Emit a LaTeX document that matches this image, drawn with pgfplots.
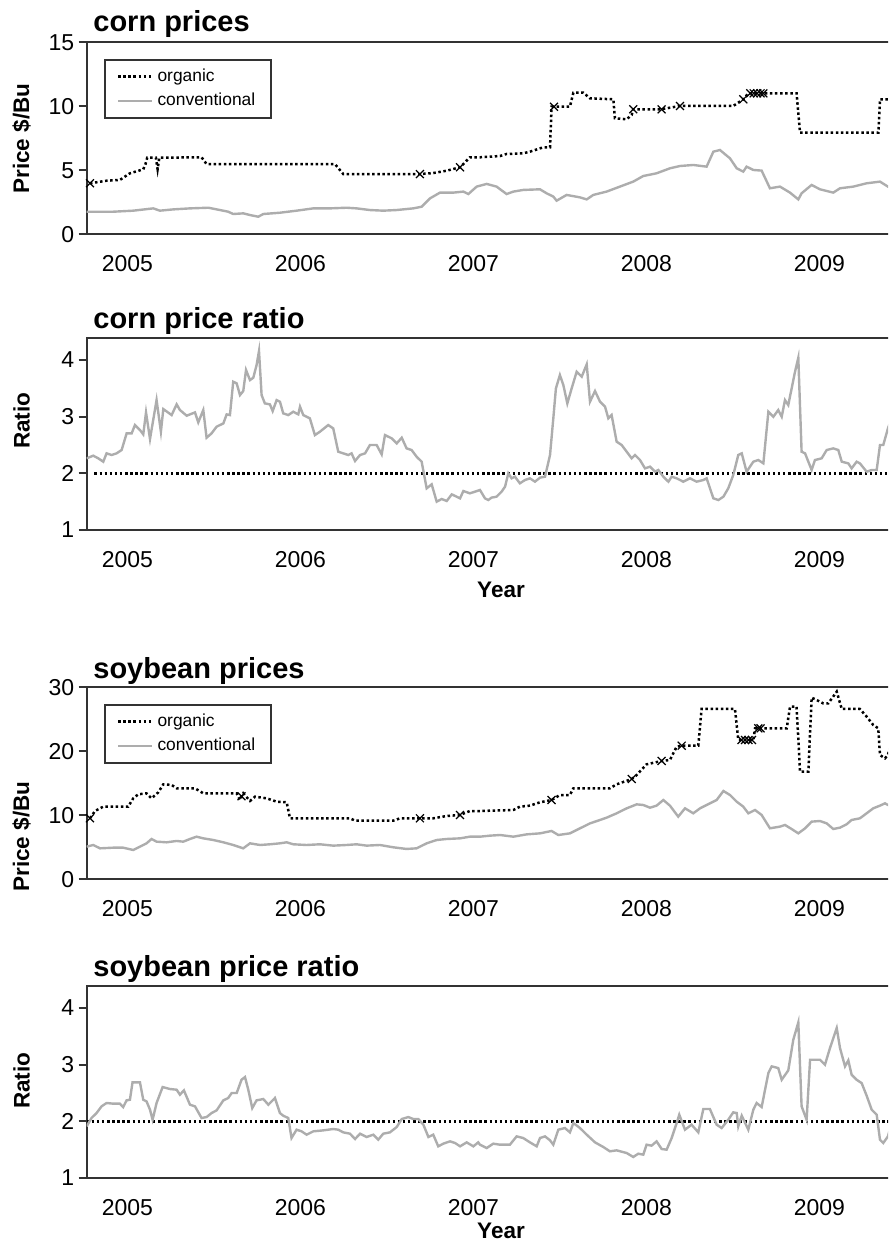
\documentclass[border=0pt]{standalone}
\usepackage{pgfplots}
\pgfplotsset{compat=1.18}
\usepackage{fontspec}
\setmainfont{Liberation Sans}
\definecolor{convgray}{gray}{0.68}
\definecolor{framec}{gray}{0.2}

\pgfplotsset{
  panel/.style={
    scale only axis, width=414.9pt, height=96pt,
    xmin=2004.764, xmax=2009.56,
    xtick={2005,2006,2007,2008,2009},
    xticklabels={2005,2006,2007,2008,2009},
    tick pos=left,
    tick align=outside,
    major tick length=4pt,
    axis line style={framec, line width=1pt},
    ytick style={framec, line width=1pt},
    xtick style={draw=none},
    tick label style={font=\fontsize{11.5}{13}\selectfont, text=black},
    xticklabel style={yshift=-3pt},
    yticklabel style={inner xsep=2pt},
    legend cell align=left,
    legend style={at={(0,1)}, anchor=north west, xshift=8.75pt, yshift=-8.15pt,
      draw=framec, line width=0.9pt, inner xsep=6pt, inner ysep=2.5pt,
      font=\fontsize{8.7}{10}\selectfont, row sep=0.5pt},
    legend image post style={xshift=2pt},
  },
  org/.style={black, line width=1.25pt, dash pattern=on 1.25pt off 1.3pt},
  conv/.style={convgray, line width=1.2pt},
  xmk/.style={only marks, mark=x, mark size=2.8pt, mark options={black, line width=0.6pt, solid}},
  ref2/.style={black, line width=1.25pt, dash pattern=on 1.25pt off 1.3pt},
}

\begin{document}
\begin{tikzpicture}
\path[use as bounding box] (0,0) rectangle (444pt,620.5pt);
\clip (0,0) rectangle (444pt,620.5pt);

% ---------------- corn prices ----------------
\begin{axis}[panel, at={(43.25pt,503.25pt)}, anchor=south west,
  ymin=0, ymax=15, ytick={0,5,10,15}, yticklabels={0,5,10,15}]
\addplot[org] coordinates {
(2004.784,4.0) (2004.880,4.2) (2004.957,4.26) (2005.015,4.78) (2005.092,5.09) (2005.105,5.5) (2005.115,6.0) (2005.165,6.0) (2005.175,5.1) (2005.185,6.0) (2005.429,6.03) (2005.458,5.5) (2006.200,5.5) (2006.248,4.72) (2006.691,4.72) (2006.768,4.8) (2006.845,4.98) (2006.923,5.25) (2006.980,6.03) (2007.038,6.03) (2007.154,6.13) (2007.192,6.29) (2007.288,6.34) (2007.327,6.47) (2007.404,6.81) (2007.443,6.81) (2007.452,9.98) (2007.558,9.98) (2007.578,11.08) (2007.635,11.08) (2007.674,10.64) (2007.809,10.56) (2007.818,9.08) (2007.886,9.0) (2007.915,9.34) (2007.924,9.78) (2008.088,9.78) (2008.117,9.86) (2008.194,10.04) (2008.502,10.04) (2008.560,10.56) (2008.589,11.03) (2008.868,11.03) (2008.888,7.95) (2009.341,7.95) (2009.350,10.56) (2009.45,10.56)
};
\addlegendentry{organic}
\addplot[conv] coordinates {
(2004.765,1.78) (2004.919,1.78) (2005.034,1.86) (2005.150,2.04) (2005.188,1.86) (2005.265,1.96) (2005.362,2.04) (2005.468,2.09) (2005.535,1.91) (2005.583,1.78) (2005.612,1.60) (2005.670,1.65) (2005.709,1.52) (2005.757,1.39) (2005.786,1.60) (2005.882,1.70) (2005.978,1.86) (2006.075,2.04) (2006.171,2.04) (2006.267,2.09) (2006.325,2.04) (2006.402,1.91) (2006.479,1.86) (2006.556,1.91) (2006.653,2.04) (2006.701,2.17) (2006.749,2.82) (2006.807,3.27) (2006.884,3.27) (2006.942,3.35) (2006.971,3.16) (2007.019,3.74) (2007.077,3.95) (2007.134,3.74) (2007.192,3.16) (2007.231,3.35) (2007.288,3.48) (2007.385,3.53) (2007.423,3.22) (2007.462,2.96) (2007.481,2.64) (2007.539,3.09) (2007.616,2.90) (2007.655,2.74) (2007.693,3.09) (2007.770,3.35) (2007.847,3.74) (2007.924,4.13) (2007.982,4.57) (2008.059,4.78) (2008.136,5.17) (2008.194,5.35) (2008.271,5.43) (2008.348,5.30) (2008.387,6.47) (2008.425,6.60) (2008.483,5.95) (2008.522,5.17) (2008.560,4.91) (2008.579,5.30) (2008.618,5.04) (2008.666,4.99) (2008.714,3.61) (2008.772,3.74) (2008.830,3.27) (2008.878,2.74) (2008.897,3.22) (2008.955,3.87) (2009.003,3.53) (2009.080,3.27) (2009.119,3.61) (2009.196,3.74) (2009.273,4.0) (2009.350,4.13) (2009.396,3.74) (2009.45,3.8)
};
\addlegendentry{conventional}
\addplot[xmk, forget plot] coordinates {
(2004.784,4.0) (2006.691,4.72) (2006.923,5.25) (2007.466,9.98) (2007.924,9.78) (2008.088,9.78) (2008.194,10.04) (2008.560,10.56) (2008.60,11.03) (2008.62,11.03) (2008.64,11.03) (2008.66,11.03) (2008.676,11.03)
};
\end{axis}

% ---------------- corn price ratio ----------------
\begin{axis}[panel, at={(43.25pt,355.5pt)}, anchor=south west,
  ymin=1, ymax=4.39, ytick={1,2,3,4}, yticklabels={1,2,3,4}]
\addplot[ref2] coordinates {(2004.81,2) (2009.56,2)};
\addplot[conv] coordinates {
(2004.765,2.265) (2004.803,2.312) (2004.832,2.265) (2004.861,2.206) (2004.880,2.353) (2004.909,2.324) (2004.938,2.353) (2004.967,2.412) (2004.996,2.706) (2005.025,2.706) (2005.044,2.853) (2005.073,2.765) (2005.092,2.688) (2005.108,3.076) (2005.131,2.606) (2005.169,3.294) (2005.194,2.735) (2005.208,3.135) (2005.256,3.029) (2005.285,3.218) (2005.304,3.118) (2005.343,3.018) (2005.391,3.076) (2005.410,2.9) (2005.439,3.118) (2005.458,2.629) (2005.487,2.706) (2005.516,2.824) (2005.555,2.882) (2005.574,3.041) (2005.593,3.029) (2005.612,3.618) (2005.632,3.588) (2005.651,3.382) (2005.670,3.453) (2005.686,3.824) (2005.709,3.647) (2005.728,3.688) (2005.747,3.912) (2005.761,4.159) (2005.776,3.382) (2005.795,3.235) (2005.824,3.218) (2005.840,3.1) (2005.863,3.294) (2005.882,3.265) (2005.901,3.059) (2005.930,3.029) (2005.959,3.088) (2005.988,3.041) (2005.998,3.176) (2006.017,3.029) (2006.055,2.971) (2006.084,2.676) (2006.113,2.735) (2006.161,2.853) (2006.190,2.794) (2006.219,2.382) (2006.248,2.353) (2006.277,2.324) (2006.296,2.353) (2006.316,2.218) (2006.345,2.324) (2006.374,2.353) (2006.402,2.5) (2006.441,2.5) (2006.470,2.335) (2006.489,2.676) (2006.528,2.618) (2006.557,2.529) (2006.586,2.629) (2006.614,2.441) (2006.643,2.412) (2006.672,2.294) (2006.701,2.206) (2006.730,1.735) (2006.759,1.806) (2006.788,1.5) (2006.817,1.547) (2006.846,1.512) (2006.875,1.629) (2006.923,1.559) (2006.942,1.688) (2006.980,1.647) (2007.038,1.706) (2007.067,1.559) (2007.086,1.529) (2007.105,1.571) (2007.134,1.588) (2007.163,1.676) (2007.183,1.765) (2007.202,2.0) (2007.221,1.912) (2007.240,1.941) (2007.269,1.824) (2007.298,1.882) (2007.327,1.912) (2007.356,1.853) (2007.385,1.924) (2007.414,1.941) (2007.443,2.324) (2007.462,2.971) (2007.477,3.5) (2007.500,3.735) (2007.520,3.559) (2007.543,3.235) (2007.568,3.5) (2007.597,3.794) (2007.626,3.706) (2007.655,3.924) (2007.674,3.265) (2007.703,3.453) (2007.732,3.265) (2007.761,3.176) (2007.780,2.971) (2007.799,3.029) (2007.828,2.559) (2007.857,2.5) (2007.886,2.382) (2007.915,2.265) (2007.934,2.324) (2007.963,2.235) (2007.992,2.088) (2008.021,2.118) (2008.050,2.029) (2008.069,2.059) (2008.098,1.941) (2008.127,1.853) (2008.146,1.941) (2008.175,1.912) (2008.213,1.853) (2008.252,1.912) (2008.290,1.853) (2008.329,1.882) (2008.348,1.912) (2008.387,1.559) (2008.416,1.529) (2008.445,1.588) (2008.473,1.735) (2008.502,1.971) (2008.531,2.324) (2008.551,2.353) (2008.579,2.029) (2008.618,2.206) (2008.647,2.235) (2008.676,2.176) (2008.705,3.088) (2008.734,3.0) (2008.762,3.118) (2008.782,3.0) (2008.801,3.294) (2008.820,3.206) (2008.859,3.794) (2008.878,4.041) (2008.897,2.382) (2008.917,2.353) (2008.955,2.059) (2008.974,2.235) (2009.013,2.265) (2009.042,2.412) (2009.080,2.441) (2009.109,2.412) (2009.129,2.206) (2009.167,2.176) (2009.186,2.088) (2009.215,2.206) (2009.234,2.176) (2009.273,2.029) (2009.302,2.059) (2009.331,2.059) (2009.350,2.5) (2009.369,2.5) (2009.396,2.794) (2009.42,3.0)
};
\end{axis}

% ---------------- soybean prices ----------------
\begin{axis}[panel, at={(43.25pt,180.75pt)}, anchor=south west,
  ymin=0, ymax=30, ytick={0,10,20,30}, yticklabels={0,10,20,30}]
\addplot[org] coordinates {
(2004.784,9.56) (2004.813,10.70) (2004.861,11.38) (2005.005,11.38) (2005.034,12.68) (2005.063,13.31) (2005.111,13.46) (2005.140,12.68) (2005.179,13.62) (2005.208,14.87) (2005.256,14.77) (2005.285,14.25) (2005.391,14.25) (2005.439,13.46) (2005.632,13.46) (2005.651,12.42) (2005.670,13.46) (2005.709,12.27) (2005.738,12.94) (2005.805,12.68) (2005.863,12.16) (2005.921,12.06) (2005.940,9.56) (2006.287,9.56) (2006.316,9.19) (2006.537,9.19) (2006.576,9.56) (2006.691,9.56) (2006.768,9.56) (2006.845,9.92) (2006.923,10.08) (2006.980,10.70) (2007.038,10.70) (2007.231,10.86) (2007.269,11.38) (2007.327,11.54) (2007.385,12.06) (2007.452,12.42) (2007.500,13.2) (2007.558,13.2) (2007.578,14.25) (2007.789,14.25) (2007.828,14.87) (2007.915,15.7) (2007.944,16.33) (2008.001,17.99) (2008.088,18.52) (2008.136,18.67) (2008.175,20.76) (2008.204,20.91) (2008.300,20.91) (2008.319,26.64) (2008.512,26.64) (2008.531,21.8) (2008.618,21.8) (2008.628,23.62) (2008.811,23.62) (2008.830,27.0) (2008.868,27.0) (2008.888,16.85) (2008.936,16.85) (2008.955,28.41) (2008.984,28.05) (2009.023,27.5) (2009.051,27.5) (2009.100,29.35) (2009.129,26.64) (2009.234,26.64) (2009.273,25.44) (2009.311,24.14) (2009.340,23.62) (2009.350,19.45) (2009.379,18.93) (2009.396,19.45) (2009.43,23)
};
\addlegendentry{organic}
\addplot[conv] coordinates {
(2004.765,5.13) (2004.803,5.39) (2004.842,4.87) (2004.919,4.97) (2004.976,4.97) (2005.034,4.61) (2005.073,5.13) (2005.111,5.65) (2005.140,6.33) (2005.169,5.91) (2005.227,5.81) (2005.285,6.02) (2005.323,5.91) (2005.362,6.33) (2005.400,6.69) (2005.439,6.43) (2005.497,6.17) (2005.555,5.81) (2005.612,5.39) (2005.670,4.87) (2005.709,5.65) (2005.767,5.39) (2005.824,5.50) (2005.882,5.65) (2005.921,5.81) (2005.959,5.50) (2006.036,5.39) (2006.113,5.50) (2006.190,5.29) (2006.267,5.39) (2006.325,5.50) (2006.383,5.29) (2006.460,5.39) (2006.537,5.03) (2006.614,4.77) (2006.672,4.87) (2006.730,5.65) (2006.788,6.17) (2006.846,6.33) (2006.923,6.43) (2006.980,6.69) (2007.038,6.69) (2007.096,6.85) (2007.154,6.95) (2007.231,6.69) (2007.308,7.05) (2007.385,7.21) (2007.452,7.58) (2007.491,6.95) (2007.558,7.21) (2007.616,7.99) (2007.674,8.77) (2007.732,9.30) (2007.770,9.66) (2007.828,10.34) (2007.886,11.12) (2007.944,11.74) (2007.982,11.64) (2008.021,11.22) (2008.059,11.54) (2008.098,12.42) (2008.136,11.54) (2008.184,9.82) (2008.223,11.12) (2008.271,10.34) (2008.310,11.12) (2008.367,11.90) (2008.406,12.42) (2008.445,13.83) (2008.483,13.20) (2008.522,12.16) (2008.560,11.38) (2008.589,10.34) (2008.628,10.86) (2008.666,10.08) (2008.714,8.0) (2008.772,8.26) (2008.801,8.52) (2008.839,7.89) (2008.878,7.21) (2008.917,7.99) (2008.955,9.04) (2009.003,9.14) (2009.042,8.77) (2009.080,7.89) (2009.119,8.10) (2009.157,8.62) (2009.186,9.30) (2009.234,9.56) (2009.273,10.34) (2009.311,11.12) (2009.350,11.54) (2009.379,11.90) (2009.396,11.64) (2009.43,11.5)
};
\addlegendentry{conventional}
\addplot[xmk, forget plot] coordinates {
(2004.784,9.56) (2005.66,13.0) (2006.691,9.56) (2006.923,10.08) (2007.452,12.42) (2007.915,15.7) (2008.088,18.52) (2008.204,20.91) (2008.55,21.8) (2008.57,21.8) (2008.59,21.8) (2008.61,21.8) (2008.647,23.62) (2008.66,23.62)
};
\end{axis}

% ---------------- soybean price ratio ----------------
\begin{axis}[panel, at={(43.25pt,31.5pt)}, anchor=south west,
  ymin=1, ymax=4.39, ytick={1,2,3,4}, yticklabels={1,2,3,4}]
\addplot[ref2] coordinates {(2004.765,2) (2009.56,2)};
\addplot[conv] coordinates {
(2004.765,1.912) (2004.793,2.059) (2004.822,2.147) (2004.851,2.265) (2004.880,2.324) (2004.919,2.312) (2004.957,2.312) (2004.976,2.253) (2004.996,2.371) (2005.015,2.382) (2005.030,2.688) (2005.073,2.688) (2005.092,2.382) (2005.111,2.353) (2005.131,2.206) (2005.146,2.029) (2005.169,2.324) (2005.204,2.606) (2005.246,2.571) (2005.285,2.559) (2005.304,2.471) (2005.327,2.547) (2005.362,2.294) (2005.391,2.265) (2005.429,2.059) (2005.458,2.076) (2005.487,2.147) (2005.516,2.194) (2005.555,2.371) (2005.583,2.412) (2005.603,2.5) (2005.632,2.5) (2005.660,2.735) (2005.680,2.782) (2005.699,2.559) (2005.722,2.235) (2005.747,2.371) (2005.786,2.394) (2005.815,2.294) (2005.853,2.412) (2005.882,2.147) (2005.901,2.1) (2005.930,2.059) (2005.949,1.706) (2005.978,1.853) (2006.007,1.824) (2006.036,1.765) (2006.075,1.824) (2006.133,1.841) (2006.190,1.865) (2006.219,1.853) (2006.248,1.806) (2006.287,1.782) (2006.316,1.688) (2006.345,1.782) (2006.383,1.724) (2006.422,1.765) (2006.450,1.676) (2006.479,1.782) (2006.518,1.806) (2006.557,1.9) (2006.586,2.041) (2006.624,2.076) (2006.653,2.041) (2006.682,2.041) (2006.711,1.941) (2006.740,1.724) (2006.768,1.765) (2006.797,1.559) (2006.826,1.606) (2006.865,1.647) (2006.894,1.618) (2006.923,1.559) (2006.961,1.629) (2007.000,1.559) (2007.028,1.629) (2007.038,1.588) (2007.077,1.529) (2007.115,1.606) (2007.154,1.588) (2007.211,1.588) (2007.250,1.735) (2007.288,1.706) (2007.327,1.629) (2007.366,1.559) (2007.385,1.706) (2007.414,1.735) (2007.443,1.665) (2007.462,1.588) (2007.491,1.853) (2007.529,1.882) (2007.558,1.806) (2007.578,1.971) (2007.616,1.882) (2007.655,1.765) (2007.703,1.629) (2007.751,1.547) (2007.789,1.471) (2007.828,1.488) (2007.886,1.441) (2007.924,1.371) (2007.953,1.429) (2007.982,1.412) (2008.001,1.588) (2008.030,1.571) (2008.059,1.647) (2008.088,1.512) (2008.117,1.5) (2008.146,1.706) (2008.175,1.971) (2008.190,2.118) (2008.223,1.853) (2008.261,1.941) (2008.300,1.806) (2008.329,2.218) (2008.367,2.218) (2008.406,1.941) (2008.435,1.882) (2008.473,2.029) (2008.502,2.159) (2008.522,2.147) (2008.531,1.912) (2008.551,2.1) (2008.589,1.853) (2008.618,2.206) (2008.637,2.324) (2008.666,2.253) (2008.705,2.853) (2008.724,2.971) (2008.762,2.941) (2008.782,2.735) (2008.820,2.9) (2008.849,3.441) (2008.878,3.747) (2008.897,2.265) (2008.926,2.029) (2008.946,3.088) (2009.003,3.088) (2009.032,3.0) (2009.061,3.294) (2009.100,3.647) (2009.119,3.294) (2009.148,2.971) (2009.167,3.076) (2009.186,2.824) (2009.215,2.735) (2009.244,2.676) (2009.273,2.453) (2009.302,2.206) (2009.331,2.118) (2009.350,1.676) (2009.369,1.618) (2009.396,1.735) (2009.42,2.0)
};
\end{axis}

% ---------------- titles and labels ----------------
\begin{scope}[every node/.style={font=\fontsize{14.5}{16}\selectfont\bfseries, inner sep=0pt}]
\node[anchor=base west] at (46.5pt,604.65pt) {corn prices};
\node[anchor=base west] at (46.5pt,456.15pt) {corn price ratio};
\node[anchor=base west] at (46.5pt,281.15pt) {soybean prices};
\node[anchor=base west] at (46.5pt,132.15pt) {soybean price ratio};
\end{scope}
\begin{scope}[every node/.style={font=\fontsize{11.25}{13}\selectfont\bfseries, inner sep=0pt}]
\node[rotate=90, anchor=center] at (10.75pt,551.2pt) {Price \$/Bu};
\node[rotate=90, anchor=center] at (10.75pt,410.1pt) {Ratio};
\node[rotate=90, anchor=center] at (10.75pt,202.2pt) {Price \$/Bu};
\node[rotate=90, anchor=center] at (10.75pt,80.15pt) {Ratio};
\node[anchor=base] at (250.5pt,321.5pt) {Year};
\node[anchor=base] at (250.5pt,1.35pt) {Year};
\end{scope}
\end{tikzpicture}
\end{document}
